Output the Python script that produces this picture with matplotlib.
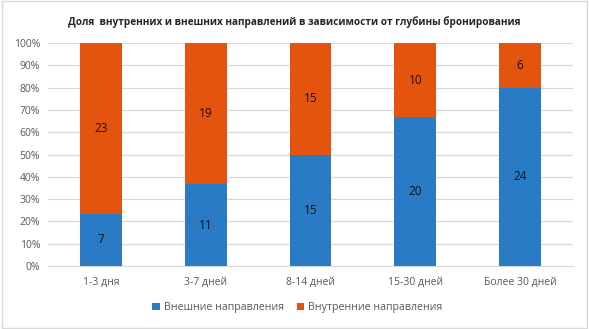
import matplotlib.pyplot as plt
import numpy as np
from matplotlib.ticker import PercentFormatter
from matplotlib.patches import Rectangle

plt.rcParams['font.family'] = ['Open Sans', 'DejaVu Sans']

categories = ["1-3 дня", "3-7 дней", "8-14 дней", "15-30 дней", "Более 30 дней"]
external = [7, 11, 15, 20, 24]
internal = [23, 19, 15, 10, 6]

blue = "#2a7bc6"
orange = "#e5540f"

ext = np.array(external, dtype=float)
inn = np.array(internal, dtype=float)
total = ext + inn
ext_share = ext / total * 100
inn_share = inn / total * 100

fig = plt.figure(figsize=(5.89, 3.29), dpi=100)
ax = fig.add_axes([0.0823, 0.1915, 0.8897, 0.6775])
fig.patches.append(Rectangle((0.003, 0.004), 0.994, 0.992, transform=fig.transFigure,
                             fill=False, edgecolor="#d9d9d9", linewidth=1))

x = np.arange(len(categories))
ax.bar(x, ext_share, width=0.4, color=blue, label="Внешние направления", zorder=3)
ax.bar(x, inn_share, width=0.4, bottom=ext_share, color=orange,
       label="Внутренние направления", zorder=3)

for i in range(len(categories)):
    ax.text(x[i], ext_share[i] / 2, str(external[i]), ha="center", va="center",
            fontsize=8.5, color="#111111", zorder=4)
    ax.text(x[i], ext_share[i] + inn_share[i] / 2, str(internal[i]), ha="center",
            va="center", fontsize=8.5, color="#111111", zorder=4)

ax.set_xlim(-0.5, len(categories) - 0.5)
ax.set_ylim(0, 100)
ax.set_yticks(np.arange(0, 101, 10))
ax.yaxis.set_major_formatter(PercentFormatter(decimals=0))
ax.set_xticks(x)
ax.set_xticklabels(categories)
ax.tick_params(axis="both", length=0, labelsize=7.5, colors="#595959", pad=8)
ax.tick_params(axis="y", pad=6)
ax.grid(axis="y", color="#d9d9d9", linewidth=0.9, zorder=0)
for s in ["top", "right", "left"]:
    ax.spines[s].set_visible(False)
ax.spines["bottom"].set_color("#d9d9d9")

fig.suptitle("Доля  внутренних и внешних направлений в зависимости от глубины бронирования",
             x=0.5, y=0.95, fontsize=7.2, fontweight="bold", color="#262626")

ax.legend(loc="upper center", bbox_to_anchor=(0.475, -0.12), ncol=2, frameon=False,
          fontsize=7.7, handlelength=0.7, handleheight=0.7, columnspacing=1.2,
          handletextpad=0.4, labelcolor="#595959")

plt.savefig("out.png", dpi=100)
plt.close()
